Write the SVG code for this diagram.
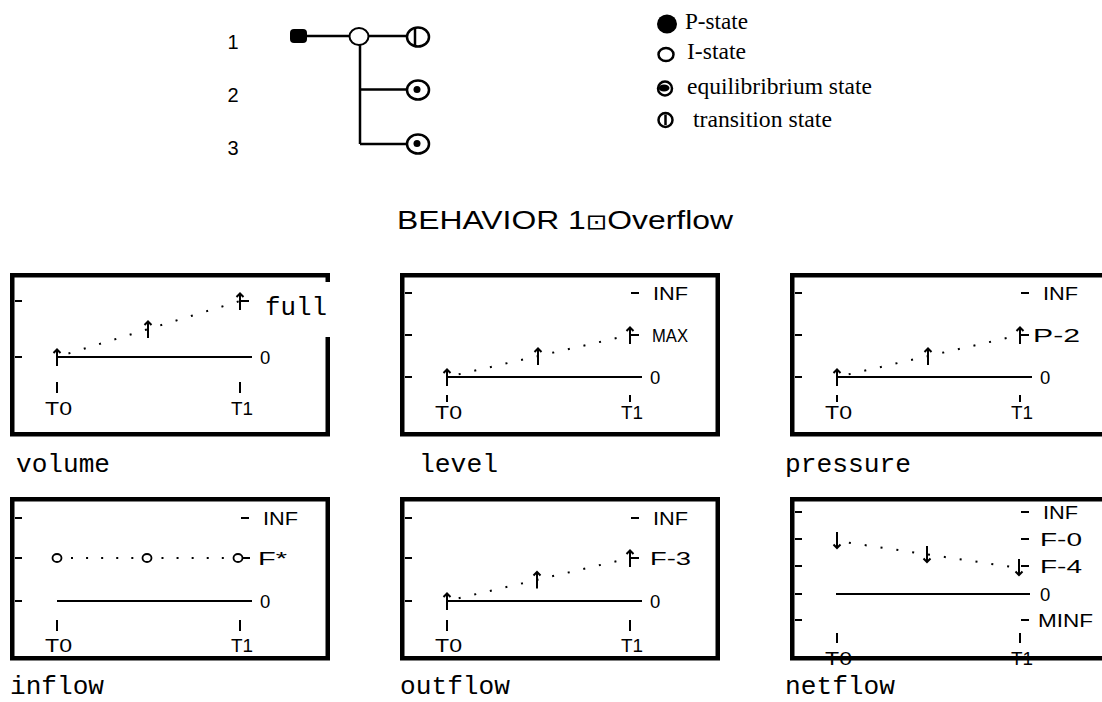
<svg xmlns="http://www.w3.org/2000/svg" width="1102" height="702" viewBox="0 0 1102 702">
  <style>
    .ln { fill: none; stroke: #000; stroke-width: 2; }
    .edge { fill: none; stroke: #000; stroke-width: 2.5; }
    .frame { fill: none; stroke: #000; stroke-width: 4.5; }
    .dots { fill: none; stroke: #000; stroke-width: 2; stroke-dasharray: 2 14; stroke-dashoffset: 4; }
    .dots-h { fill: none; stroke: #000; stroke-width: 2; stroke-dasharray: 2 13.08; stroke-dashoffset: 1.08; }
    .lab { font-family: "Liberation Sans", Arial, sans-serif; font-size: 18.5px; fill: #000; }
    .num { font-family: "Liberation Sans", Arial, sans-serif; font-size: 20px; fill: #000; text-anchor: middle; }
    .mono { font-family: "Liberation Mono", "Courier New", monospace; font-size: 25px; fill: #000; }
    .serif { font-family: "Liberation Serif", "Times New Roman", serif; font-size: 22.5px; fill: #000; }
    .title { font-family: "Liberation Sans", Arial, sans-serif; font-size: 26px; fill: #000; }
    .box { font-family: "DejaVu Sans", sans-serif; font-size: 21px; }
  </style>
  <defs>
    <!-- increasing / decreasing direction marks used on the qualitative plots -->
    <g id="up"><path class="ln" d="M0 -7.5 V9 M-3.5 -4 L0 -7.5 L3.5 -4"/></g>
    <g id="down"><path class="ln" d="M0 -7 V9 M-3.5 5.5 L0 9 L3.5 5.5"/></g>
    <ellipse id="istate" rx="4.5" ry="4" fill="#fff" stroke="#000" stroke-width="1.8"/>
  </defs>
  <rect width="1102" height="702" fill="#fff"/>

  <!-- behaviour tree -->
  <g id="tree-labels">
    <text class="num" x="233" y="49">1</text>
    <text class="num" x="233" y="102">2</text>
    <text class="num" x="233" y="155">3</text>
  </g>
  <g id="connectors">
    <path class="edge" d="M307 36 H350"/>
    <path class="edge" d="M369 36 H406"/>
    <path class="edge" d="M360 45 V144 M360 89.5 H406 M360 144 H406"/>
  </g>
  <g id="node-p"><rect x="290" y="29" width="17" height="14" rx="4" fill="#000"/></g>
  <g id="node-i"><ellipse cx="359" cy="36.5" rx="9.5" ry="8.5" fill="#fff" stroke="#000" stroke-width="2"/></g>
  <g id="node-t1">
    <ellipse cx="418" cy="37" rx="11" ry="9.5" fill="#fff" stroke="#000" stroke-width="2.5"/>
    <line x1="415" y1="29" x2="415" y2="45" stroke="#000" stroke-width="2.5"/>
  </g>
  <g id="node-e2">
    <ellipse cx="418" cy="90" rx="11" ry="9.5" fill="#fff" stroke="#000" stroke-width="2.5"/>
    <circle cx="417" cy="89.5" r="3.5" fill="#000"/>
  </g>
  <g id="node-e3">
    <ellipse cx="418" cy="144" rx="11" ry="9.5" fill="#fff" stroke="#000" stroke-width="2.5"/>
    <circle cx="417" cy="143.5" r="3.5" fill="#000"/>
  </g>

  <!-- legend -->
  <g id="legend">
    <ellipse cx="667" cy="24" rx="10" ry="9.5" fill="#000"/>
    <text class="serif" x="685" y="29" textLength="63" lengthAdjust="spacingAndGlyphs">P-state</text>
    <ellipse cx="666" cy="54.5" rx="7.5" ry="6.5" fill="#fff" stroke="#000" stroke-width="2.5"/>
    <text class="serif" x="687" y="59" textLength="59" lengthAdjust="spacingAndGlyphs">I-state</text>
    <circle cx="665" cy="88.5" r="7" fill="#fff" stroke="#000" stroke-width="2.5"/>
    <ellipse cx="664" cy="88" rx="5.5" ry="3.5" fill="#000"/>
    <text class="serif" x="687" y="94" textLength="185" lengthAdjust="spacingAndGlyphs">equilibribrium state</text>
    <circle cx="665.5" cy="120" r="7" fill="#fff" stroke="#000" stroke-width="2.5"/>
    <line x1="665.5" y1="114.5" x2="665.5" y2="125" stroke="#000" stroke-width="2.5"/>
    <text class="serif" x="693" y="127" textLength="139" lengthAdjust="spacingAndGlyphs">transition state</text>
  </g>

  <text id="title" class="title" x="397" y="229" textLength="336" lengthAdjust="spacingAndGlyphs">BEHAVIOR 1<tspan class="box">⊡</tspan>Overflow</text>

  <!-- volume -->
  <g id="plot-volume" transform="translate(10 273)">
    <rect class="frame" x="2.25" y="2.25" width="315.5" height="159"/>
    <rect x="252" y="9" width="72" height="55" fill="#fff"/>
    <path class="ln" d="M5 28 H12 M5 84 H12 M231 28 H239"/>
    <path class="ln" d="M47 84 H242"/>
    <path class="dots" d="M47 84 L230 28"/>
    <use href="#up" x="47" y="84"/>
    <use href="#up" x="138" y="56"/>
    <use href="#up" x="230" y="28"/>
    <path class="ln" d="M47 109 V120 M230 109 V120"/>
    <text class="lab" x="35" y="142" textLength="27" lengthAdjust="spacingAndGlyphs">T0</text>
    <text class="lab" x="221" y="142" textLength="22" lengthAdjust="spacingAndGlyphs">T1</text>
    <text class="lab" x="250" y="90.5">0</text>
    <text class="mono" x="255" y="42" textLength="62" lengthAdjust="spacingAndGlyphs">full</text>
  </g>
  <text class="mono" x="16" y="472" textLength="94" lengthAdjust="spacingAndGlyphs">volume</text>

  <!-- level -->
  <g id="plot-level" transform="translate(400 273)">
    <rect class="frame" x="2.25" y="2.25" width="315.5" height="159"/>
    <path class="ln" d="M5 20 H12 M5 62 H12 M5 104 H12 M231 20 H239 M231 62 H239"/>
    <path class="ln" d="M47 104 H242"/>
    <path class="dots" d="M47 104 L230 62"/>
    <use href="#up" x="47" y="104"/>
    <use href="#up" x="138" y="83"/>
    <use href="#up" x="230" y="62"/>
    <path class="ln" d="M47 122 V129 M230 122 V129"/>
    <text class="lab" x="35" y="146" textLength="27" lengthAdjust="spacingAndGlyphs">T0</text>
    <text class="lab" x="221" y="146" textLength="22" lengthAdjust="spacingAndGlyphs">T1</text>
    <text class="lab" x="253" y="26.5" textLength="35" lengthAdjust="spacingAndGlyphs">INF</text>
    <text class="lab" x="252" y="68.5" textLength="36" lengthAdjust="spacingAndGlyphs">MAX</text>
    <text class="lab" x="250" y="110.5">0</text>
  </g>
  <text class="mono" x="419" y="472" textLength="79" lengthAdjust="spacingAndGlyphs">level</text>

  <!-- pressure -->
  <g id="plot-pressure" transform="translate(790 273)">
    <rect class="frame" x="2.25" y="2.25" width="315.5" height="159"/>
    <path class="ln" d="M5 20 H12 M5 62 H12 M5 104 H12 M231 20 H239 M231 62 H239"/>
    <path class="ln" d="M47 104 H242"/>
    <path class="dots" d="M47 104 L230 62"/>
    <use href="#up" x="47" y="104"/>
    <use href="#up" x="138" y="83"/>
    <use href="#up" x="230" y="62"/>
    <path class="ln" d="M47 122 V129 M230 122 V129"/>
    <text class="lab" x="35" y="146" textLength="27" lengthAdjust="spacingAndGlyphs">T0</text>
    <text class="lab" x="221" y="146" textLength="22" lengthAdjust="spacingAndGlyphs">T1</text>
    <text class="lab" x="253" y="26.5" textLength="35" lengthAdjust="spacingAndGlyphs">INF</text>
    <text class="lab" x="243" y="68.5" textLength="47" lengthAdjust="spacingAndGlyphs">P-2</text>
    <text class="lab" x="250" y="110.5">0</text>
  </g>
  <text class="mono" x="785" y="472" textLength="126" lengthAdjust="spacingAndGlyphs">pressure</text>

  <!-- inflow -->
  <g id="plot-inflow" transform="translate(10 497)">
    <rect class="frame" x="2.25" y="2.25" width="315.5" height="159"/>
    <path class="ln" d="M5 21 H12 M5 61 H12 M5 104 H12 M231 21 H239 M231 61 H240"/>
    <path class="ln" d="M47 104 H242"/>
    <path class="dots-h" d="M47 61 H228"/>
    <use href="#istate" x="47" y="61"/>
    <use href="#istate" x="137" y="61"/>
    <use href="#istate" x="228" y="61"/>
    <path class="ln" d="M233 61 H240"/>
    <path class="ln" d="M47 123 V134 M230 123 V134"/>
    <text class="lab" x="35" y="155" textLength="27" lengthAdjust="spacingAndGlyphs">T0</text>
    <text class="lab" x="221" y="155" textLength="22" lengthAdjust="spacingAndGlyphs">T1</text>
    <text class="lab" x="253" y="27.5" textLength="35" lengthAdjust="spacingAndGlyphs">INF</text>
    <text class="lab" x="248" y="67.5" textLength="29" lengthAdjust="spacingAndGlyphs">F*</text>
    <text class="lab" x="250" y="110.5">0</text>
  </g>
  <text class="mono" x="10" y="694" textLength="94" lengthAdjust="spacingAndGlyphs">inflow</text>

  <!-- outflow -->
  <g id="plot-outflow" transform="translate(400 497)">
    <rect class="frame" x="2.25" y="2.25" width="315.5" height="159"/>
    <path class="ln" d="M5 21 H12 M5 61 H12 M5 104 H12 M231 21 H239 M231 61 H239"/>
    <path class="ln" d="M47 104 H242"/>
    <path class="dots" d="M47 104 L230 61"/>
    <use href="#up" x="47" y="104"/>
    <use href="#up" x="137" y="82.5"/>
    <use href="#up" x="230" y="61"/>
    <path class="ln" d="M47 123 V134 M230 123 V134"/>
    <text class="lab" x="35" y="155" textLength="27" lengthAdjust="spacingAndGlyphs">T0</text>
    <text class="lab" x="221" y="155" textLength="22" lengthAdjust="spacingAndGlyphs">T1</text>
    <text class="lab" x="253" y="27.5" textLength="35" lengthAdjust="spacingAndGlyphs">INF</text>
    <text class="lab" x="250" y="67.5" textLength="41" lengthAdjust="spacingAndGlyphs">F-3</text>
    <text class="lab" x="250" y="110.5">0</text>
  </g>
  <text class="mono" x="400" y="694" textLength="110" lengthAdjust="spacingAndGlyphs">outflow</text>

  <!-- netflow -->
  <g id="plot-netflow" transform="translate(790 497)">
    <rect class="frame" x="2.25" y="2.25" width="315.5" height="159"/>
    <path class="ln" d="M5 15 H12 M5 42 H12 M5 69 H12 M5 97 H12 M5 123 H12 M231 15 H239 M231 42 H239 M231 69 H239 M231 123 H239"/>
    <path class="ln" d="M46 97 H240"/>
    <path class="dots" d="M47 44 L229 71"/>
    <use href="#down" x="47" y="42"/>
    <use href="#down" x="137" y="56"/>
    <use href="#down" x="229" y="69"/>
    <path class="ln" d="M47 136 V146 M230 136 V146"/>
    <text class="lab" x="35" y="168" textLength="27" lengthAdjust="spacingAndGlyphs">T0</text>
    <text class="lab" x="221" y="168" textLength="22" lengthAdjust="spacingAndGlyphs">T1</text>
    <text class="lab" x="253" y="21.5" textLength="35" lengthAdjust="spacingAndGlyphs">INF</text>
    <text class="lab" x="250" y="48.5" textLength="42" lengthAdjust="spacingAndGlyphs">F-0</text>
    <text class="lab" x="250" y="75.5" textLength="42" lengthAdjust="spacingAndGlyphs">F-4</text>
    <text class="lab" x="250" y="103.5">0</text>
    <text class="lab" x="248" y="129.5" textLength="55" lengthAdjust="spacingAndGlyphs">MINF</text>
  </g>
  <text class="mono" x="785" y="694" textLength="110" lengthAdjust="spacingAndGlyphs">netflow</text>
</svg>
